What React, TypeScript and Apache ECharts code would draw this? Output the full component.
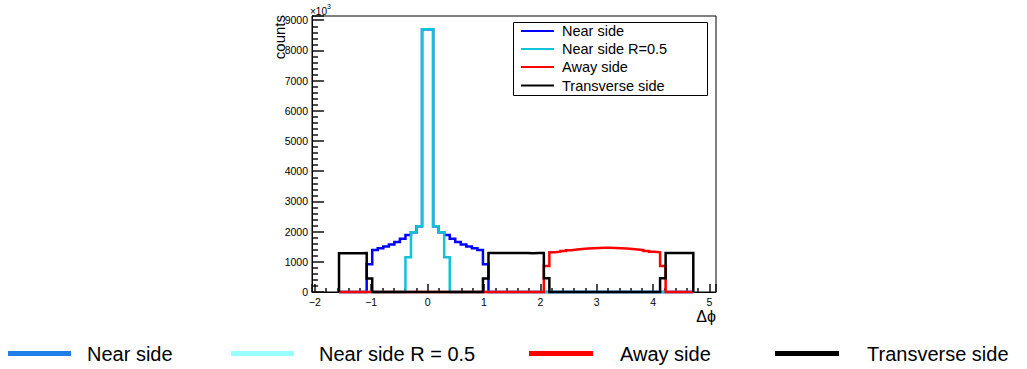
import React, { useEffect, useRef } from "react";
import * as echarts from "echarts";

// Histogram: 64 bins of width pi/32 from -pi/2 to 3pi/2
const phiMin = -Math.PI / 2;
const phiMax = (3 * Math.PI) / 2;

const nearSide = [
  0, 0, 0, 0, 0, 917, 1395, 1445, 1505, 1575, 1655, 1760, 1885, 1975, 2180, 8700,
  8700, 2180, 1975, 1885, 1760, 1655, 1575, 1505, 1445, 1395, 917, 0, 0, 0, 0, 0,
  0, 0, 0, 0, 0, 0, 0, 0, 0, 0, 0, 0, 0, 0, 0, 0,
  0, 0, 0, 0, 0, 0, 0, 0, 0, 0, 0, 0, 0, 0, 0, 0,
];

const nearSideR05 = [
  0, 0, 0, 0, 0, 0, 0, 0, 0, 0, 0, 0, 1150, 1975, 2180, 8700,
  8700, 2180, 1975, 1150, 0, 0, 0, 0, 0, 0, 0, 0, 0, 0, 0, 0,
  0, 0, 0, 0, 0, 0, 0, 0, 0, 0, 0, 0, 0, 0, 0, 0,
  0, 0, 0, 0, 0, 0, 0, 0, 0, 0, 0, 0, 0, 0, 0, 0,
];

const awaySide = [
  0, 0, 0, 0, 0, 0, 0, 0, 0, 0, 0, 0, 0, 0, 0, 0,
  0, 0, 0, 0, 0, 0, 0, 0, 0, 0, 0, 0, 0, 0, 0, 0,
  0, 0, 0, 0, 0, 860, 1315, 1335, 1360, 1385, 1405, 1425, 1440, 1452, 1460, 1465,
  1465, 1460, 1450, 1440, 1425, 1405, 1385, 1360, 1335, 1315, 860, 0, 0, 0, 0, 0,
];

const transverseSide = [
  1280, 1282, 1285, 1283, 1287, 450, 0, 0, 0, 0, 0, 0, 0, 0, 0, 0,
  0, 0, 0, 0, 0, 0, 0, 0, 0, 0, 450, 1295, 1293, 1290, 1292, 1290,
  1288, 1290, 1287, 1290, 1292, 455, 0, 0, 0, 0, 0, 0, 0, 0, 0, 0,
  0, 0, 0, 0, 0, 0, 0, 0, 0, 0, 455, 1290, 1292, 1288, 1290, 1292,
];

const seriesNames = ["Near side", "Near side R=0.5", "Away side", "Transverse side"];
const seriesColors = ["#0000ff", "#12c2d6", "#ff0000", "#000000"];
const bottomLegendLabels = ["Near side", "Near side R = 0.5", "Away side", "Transverse side"];
const bottomLegendColors = ["#1f7fe8", "#99ffff", "#ff0000", "#000000"];

const FONT = '"Liberation Sans", Arial, Helvetica, sans-serif';

function outline(values: number[]) {
  const w = (phiMax - phiMin) / values.length;
  const pts: number[][] = [[phiMin, 0]];
  values.forEach((v, i) => pts.push([phiMin + i * w, v]));
  pts.push([phiMax, values[values.length - 1]]);
  pts.push([phiMax, 0]);
  return pts;
}

const fmtNum = (v: number) => (v < 0 ? "\u2212" + Math.abs(v) : String(v));

export default function App() {
  const ref = useRef<HTMLDivElement>(null);

  useEffect(() => {
    if (!ref.current) return;
    const chart = echarts.init(ref.current, undefined, { renderer: "svg" });
    const xMin = -2.05;
    const xMax = 5.115;
    const yMax = 9140;
    const datasets = [nearSide, nearSideR05, awaySide, transverseSide];

    const legendY = [31, 49, 67, 85.5];
    const topLegend: any[] = [
      {
        type: "rect",
        shape: { x: 513.5, y: 22.5, width: 194, height: 73 },
        style: { fill: "#ffffff", stroke: "#000000", lineWidth: 1 },
      },
    ];
    seriesNames.forEach((name, i) => {
      topLegend.push({
        type: "line",
        shape: { x1: 521, y1: legendY[i], x2: 554, y2: legendY[i] },
        style: { stroke: seriesColors[i], lineWidth: 2 },
      });
      topLegend.push({
        type: "text",
        x: 562,
        y: legendY[i],
        style: {
          text: name,
          fill: "#000",
          font: `14.5px ${FONT}`,
          verticalAlign: "middle",
          align: "left",
        },
      });
    });

    const bottomX = [
      [8, 71, 87],
      [231, 294, 319],
      [529, 593, 620],
      [775, 839, 867],
    ];
    const bottomLegend: any[] = [];
    bottomLegendLabels.forEach((label, i) => {
      bottomLegend.push({
        type: "rect",
        shape: { x: bottomX[i][0], y: 351, width: bottomX[i][1] - bottomX[i][0], height: 5 },
        style: { fill: bottomLegendColors[i] },
      });
      bottomLegend.push({
        type: "text",
        x: bottomX[i][2],
        y: 354,
        style: {
          text: label,
          fill: "#000",
          font: `20px ${FONT}`,
          verticalAlign: "middle",
          align: "left",
        },
      });
    });

    const tick = { color: "#111", width: 1.5 };

    const option: any = {
      animation: false,
      backgroundColor: "#ffffff",
      grid: {
        left: 312,
        right: 311,
        top: 16,
        bottom: 77,
        show: true,
        borderColor: "#000",
        borderWidth: 1,
      },
      xAxis: [
        {
          type: "value",
          min: xMin,
          max: xMax,
          minInterval: 1,
          maxInterval: 1,
          position: "bottom",
          axisLine: { show: true, onZero: false, lineStyle: { color: "#000", width: 1 } },
          axisTick: { show: true, inside: true, length: 8, lineStyle: { ...tick } },
          minorTick: { show: true, splitNumber: 5, length: 4, lineStyle: { ...tick } },
          axisLabel: {
            show: true,
            formatter: (v: number) => fmtNum(v),
            color: "#000",
            fontSize: 10.5,
            fontFamily: FONT,
            margin: 4,
          },
          splitLine: { show: false },
          minorSplitLine: { show: false },
        },
      ],
      yAxis: [
        {
          type: "value",
          min: 0,
          max: yMax,
          interval: 1000,
          position: "left",
          axisLine: { show: true, onZero: false, lineStyle: { color: "#000", width: 1 } },
          axisTick: { show: true, inside: true, length: 12, lineStyle: { ...tick } },
          minorTick: { show: true, splitNumber: 5, length: 6, lineStyle: { ...tick } },
          axisLabel: {
            show: true,
            formatter: (v: number) => fmtNum(v),
            color: "#000",
            fontSize: 10.5,
            fontFamily: FONT,
            margin: 4,
            showMaxLabel: false,
          },
          splitLine: { show: false },
          minorSplitLine: { show: false },
        },
      ],
      series: datasets.map((vals, i) => ({
        type: "line",
        name: seriesNames[i],
        data: outline(vals),
        step: "end",
        symbol: "none",
        showSymbol: false,
        clip: false,
        silent: true,
        lineStyle: { color: seriesColors[i], width: 2.5, join: "miter", cap: "butt" },
        z: 2 + i,
      })),
      graphic: [
        {
          type: "text",
          x: 279,
          y: 15,
          rotation: Math.PI / 2,
          style: {
            text: "counts",
            fill: "#000",
            font: `15px ${FONT}`,
            align: "right",
            verticalAlign: "middle",
          },
        },
        {
          type: "text",
          x: 310,
          y: 11,
          style: { text: "\u00d710", fill: "#000", font: `10px ${FONT}`, align: "left", verticalAlign: "middle" },
        },
        {
          type: "text",
          x: 327,
          y: 6.5,
          style: { text: "3", fill: "#000", font: `7px ${FONT}`, align: "left", verticalAlign: "middle" },
        },
        {
          type: "text",
          x: 716,
          y: 316,
          style: { text: "\u0394\u03d5", fill: "#000", font: `16px ${FONT}`, align: "right", verticalAlign: "middle" },
        },
        ...topLegend,
        ...bottomLegend,
      ],
    };

    chart.setOption(option);
    return () => {
      chart.dispose();
    };
  }, []);

  return (
    <div
      ref={ref}
      style={{ position: "absolute", left: 0, top: 0, width: 1027, height: 369, background: "#fff" }}
    />
  );
}
